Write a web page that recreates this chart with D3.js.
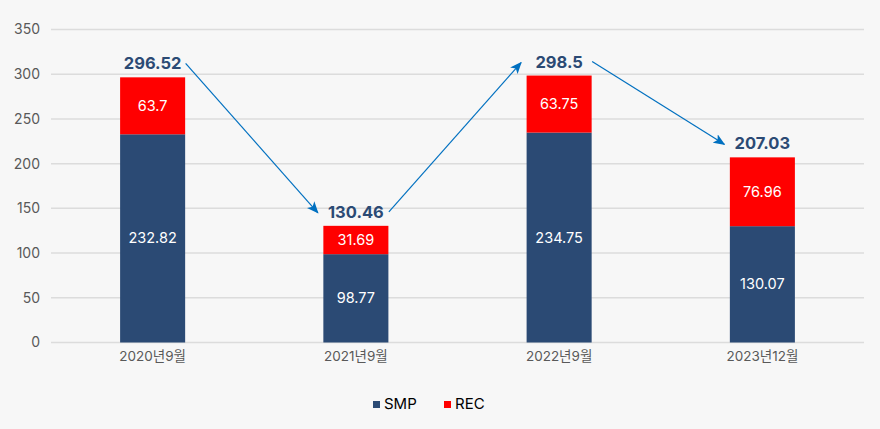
<!DOCTYPE html>
<html><head><meta charset="utf-8">
<script src="https://cdn.jsdelivr.net/npm/d3@7"></script>
<style>
html,body{margin:0;padding:0;background:#f7f7f7;}
svg{display:block;font-family:Inter,"Noto Sans CJK KR",sans-serif;}
</style></head>
<body><svg id="c" width="880" height="429"></svg>
<script>
const categories = ["2020년9월","2021년9월","2022년9월","2023년12월"];
const smp = [232.82, 98.77, 234.75, 130.07];
const rec = [63.7, 31.69, 63.75, 76.96];
const totals = [296.52, 130.46, 298.5, 207.03];
const yTicks = [0,50,100,150,200,250,300,350];
const seriesNames = ["SMP","REC"];
const colors = ["#2b4a74","#ff0000"];

(function(){
const svg = d3.select("#c");
const pL = 51, pR = 864, pT = 29.5, pB = 342.5;
const x = d3.scaleBand().domain(categories).range([pL,pR]).paddingInner(0.68).paddingOuter(0.34);
const y = d3.scaleLinear().domain([0,350]).range([pB,pT]);

// grid
svg.append("g").selectAll("line").data(yTicks).join("line")
  .attr("x1",pL).attr("x2",pR)
  .attr("y1",d=>y(d)).attr("y2",d=>y(d))
  .attr("stroke","#dcdcdc").attr("stroke-width",1.5);

// y axis
const yAxis = d3.axisLeft(y).tickValues(yTicks).tickSize(0).tickPadding(11);
const gy = svg.append("g").attr("transform",`translate(${pL},0)`).call(yAxis);
gy.select(".domain").remove();
gy.selectAll("text").attr("font-size",14).attr("fill","#595959").attr("font-family","Inter,'Noto Sans CJK KR',sans-serif");

// x axis
const xAxis = d3.axisBottom(x).tickSize(0).tickPadding(9);
const gx = svg.append("g").attr("transform",`translate(0,${pB})`).call(xAxis);
gx.select(".domain").remove();
gx.selectAll("text").attr("font-size",13.5).attr("fill","#595959").attr("font-family","Inter,'Noto Sans CJK KR',sans-serif");

// stacked bars
const rows = categories.map((c,i)=>({cat:c, SMP:smp[i], REC:rec[i]}));
const stack = d3.stack().keys(seriesNames)(rows);
stack.forEach((layer,li)=>{
  const g = svg.append("g");
  g.selectAll("rect").data(layer).join("rect")
    .attr("x",d=>x(d.data.cat)).attr("width",x.bandwidth())
    .attr("y",d=>y(d[1])).attr("height",d=>y(d[0])-y(d[1]))
    .attr("fill",colors[li]);
  g.selectAll("text").data(layer).join("text")
    .attr("x",d=>x(d.data.cat)+x.bandwidth()/2)
    .attr("y",d=>(y(d[0])+y(d[1]))/2)
    .attr("dy","0.35em").attr("text-anchor","middle")
    .attr("fill","#fff").attr("font-size",14.5)
    .text(d=>d.data[seriesNames[li]]);
});

// totals
svg.append("g").selectAll("text").data(categories).join("text")
  .attr("x",c=>x(c)+x.bandwidth()/2)
  .attr("y",(c,i)=>y(totals[i])-8)
  .attr("text-anchor","middle").attr("font-weight","bold")
  .attr("font-size",16.5).attr("fill","#2b4a74")
  .text((c,i)=>totals[i]);

// arrows
const defs = svg.append("defs");
defs.append("marker").attr("id","ah").attr("viewBox","0 0 12 10")
  .attr("refX",11).attr("refY",5).attr("markerWidth",12).attr("markerHeight",10)
  .attr("markerUnits","userSpaceOnUse").attr("orient","auto")
  .append("path").attr("d","M0,0 L12,5 L0,10 L3,5 Z").attr("fill","#0070c0");
const cx = c=>x(c)+x.bandwidth()/2;
for(let i=0;i<categories.length-1;i++){
  const x1 = cx(categories[i])+33, y1 = y(totals[i])-14;
  const x2 = cx(categories[i+1])-38, y2 = y(totals[i+1])-13;
  svg.append("line").attr("x1",x1).attr("y1",y1).attr("x2",x2).attr("y2",y2)
    .attr("stroke","#0070c0").attr("stroke-width",1.2).attr("marker-end","url(#ah)");
}

// legend
const lg = svg.append("g");
const lx = [373,444];
seriesNames.forEach((s,i)=>{
  lg.append("rect").attr("x",lx[i]).attr("y",401).attr("width",7).attr("height",7).attr("fill",colors[i]);
  lg.append("text").attr("x",lx[i]+11).attr("y",404).attr("dy","0.35em")
    .attr("font-size",15).attr("fill","#000").text(s);
});
})();
</script></body></html>
